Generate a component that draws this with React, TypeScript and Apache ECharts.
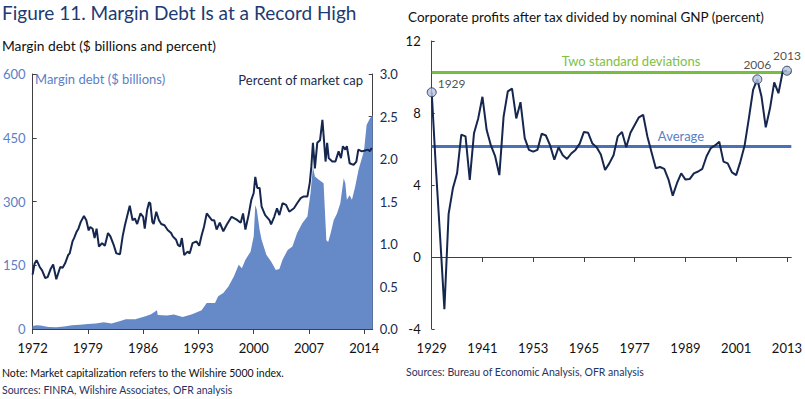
import React, { useEffect, useRef } from "react";
import * as echarts from "echarts";

const FONT = "Lato, 'Open Sans', sans-serif";

// ---- Left panel: margin debt ($ billions) and percent of market cap ----
const debtYears = [
  1972.0, 1972.5, 1973.0, 1974.0, 1975.0, 1976.0, 1977.0, 1978.0, 1979.0, 1980.0,
  1981.0, 1982.0, 1983.0, 1983.8, 1985.0, 1986.3, 1987.0, 1987.75, 1987.85, 1989.0,
  1989.9, 1991.0, 1992.2, 1993.4, 1994.05, 1995.1, 1995.5, 1996.15, 1996.8, 1997.5,
  1998.1, 1998.5, 1998.95, 1999.6, 2000.0, 2000.2, 2000.4, 2000.75, 2001.0, 2001.6,
  2002.2, 2002.8, 2003.25, 2003.65, 2004.3, 2004.9, 2005.5, 2006.15, 2006.8, 2007.2,
  2007.5, 2007.75, 2008.25, 2008.85, 2009.2, 2009.43, 2009.75, 2010.13, 2010.55, 2010.97,
  2011.4, 2011.6, 2011.8, 2012.14, 2012.44, 2012.85, 2013.27, 2013.7, 2013.98, 2014.3,
  2014.73, 2015.07,
];
const debtValues = [
  7, 9, 8, 5, 4, 6, 9, 10, 12, 13,
  16, 13, 18, 23, 23, 30, 35, 44, 33, 32,
  34, 28, 35, 44, 61, 61, 77, 85, 100, 124,
  151, 143, 163, 182, 218, 292, 280, 233, 210, 175,
  159, 139, 141, 163, 186, 194, 226, 249, 265, 320,
  382, 359, 351, 343, 209, 205, 226, 256, 272, 296,
  355, 343, 304, 315, 304, 335, 374, 402, 421, 480,
  496, 503,
];

const pctYears = [
  1972.0, 1972.25, 1972.5, 1972.9, 1973.2, 1973.6, 1973.9, 1974.3, 1974.6, 1975.0,
  1975.5, 1975.8, 1976.1, 1976.5, 1976.7, 1977.05, 1977.25, 1977.55, 1977.8, 1978.1,
  1978.5, 1978.8, 1979.1, 1979.3, 1979.6, 1979.85, 1980.1, 1980.4, 1980.8, 1981.15,
  1981.55, 1981.85, 1982.3, 1982.6, 1983.07, 1983.4, 1983.69, 1983.9, 1984.3, 1984.66,
  1984.95, 1985.24, 1985.66, 1986.0, 1986.2, 1986.5, 1986.75, 1986.9, 1987.16, 1987.33,
  1987.66, 1988.0, 1988.29, 1988.7, 1989.1, 1989.54, 1989.75, 1990.17, 1990.4, 1990.67,
  1990.9, 1991.2, 1991.63, 1991.9, 1992.25, 1992.76, 1993.1, 1993.4, 1993.7, 1994.05,
  1994.7, 1995.0, 1995.3, 1995.7, 1996.15, 1996.6, 1997.2, 1997.8, 1998.35, 1998.65,
  1998.95, 1999.35, 1999.7, 2000.0, 2000.2, 2000.45, 2000.75, 2001.0, 2001.45, 2002.0,
  2002.2, 2002.6, 2002.95, 2003.25, 2003.65, 2004.1, 2004.5, 2005.1, 2005.5, 2005.95,
  2006.35, 2006.8, 2007.1, 2007.3, 2007.5, 2007.75, 2008.05, 2008.4, 2008.7, 2008.9,
  2009.1, 2009.3, 2009.5, 2009.95, 2010.35, 2010.75, 2011.05, 2011.3, 2011.6, 2011.8,
  2012.15, 2012.65, 2013.0, 2013.25, 2013.7, 2014.1, 2014.5, 2014.7, 2014.95,
];
const pctValues = [
  0.64, 0.77, 0.81, 0.73, 0.69, 0.6, 0.61, 0.71, 0.76, 0.585,
  0.73, 0.72, 0.77, 0.87, 0.89, 1.03, 1.07, 1.14, 1.18, 1.26,
  1.33, 1.28, 1.16, 1.2, 1.18, 1.07, 1.18, 0.97, 1.01, 0.98,
  1.13, 1.09, 0.98, 0.89, 0.88, 1.09, 1.22, 1.3, 1.45, 1.28,
  1.3, 1.235, 1.36, 1.32, 1.18, 1.4, 1.49, 1.48, 1.26, 1.235,
  1.38, 1.28, 1.235, 1.22, 1.165, 1.13, 1.09, 1.05, 0.99, 0.97,
  1.07, 0.87, 0.91, 0.89, 1.01, 1.03, 0.98, 1.1, 1.2, 1.36,
  1.28, 1.28, 1.17, 1.25, 1.15, 1.23, 1.32, 1.29, 1.25, 1.36,
  1.17, 1.34, 1.52, 1.6, 1.79, 1.66, 1.66, 1.44, 1.34, 1.28,
  1.23, 1.32, 1.42, 1.34, 1.48, 1.46, 1.38, 1.42, 1.48, 1.54,
  1.56, 1.56, 1.72, 1.91, 2.19, 1.89, 2.19, 2.22, 2.46, 2.22,
  1.97, 2.19, 2.01, 1.97, 1.97, 2.09, 2.01, 2.15, 2.11, 2.15,
  1.95, 1.93, 1.97, 2.11, 2.09, 2.1, 2.11, 2.09, 2.13,
];
const leftXTicks = [1972, 1979, 1986, 1993, 2000, 2007, 2014];

// ---- Right panel: corporate profits after tax / nominal GNP (percent) ----
const profitStartYear = 1929;
const profitValues = [
  9.15, 4.9, 1.1, -2.9, 2.4, 3.8, 4.65, 6.8, 6.7, 4.28,
  6.87, 7.7, 8.9, 7.05, 6.2, 5.6, 4.55, 7.8, 9.2, 9.35,
  7.7, 8.6, 6.6, 5.95, 5.85, 5.95, 6.85, 6.75, 6.2, 5.4,
  6.1, 5.65, 5.45, 5.75, 5.95, 6.3, 6.95, 6.9, 6.3, 6.1,
  5.7, 4.83, 5.2, 5.65, 6.7, 6.95, 6.1, 6.9, 7.33, 7.76,
  7.9, 6.7, 5.8, 4.93, 5.0, 4.9, 4.3, 3.41, 4.1, 4.65,
  4.3, 4.33, 4.65, 4.75, 4.9, 5.6, 6.05, 6.2, 6.4, 5.3,
  5.2, 4.7, 4.55, 5.3, 6.2, 7.7, 9.28, 9.87, 8.9, 7.2,
  8.26, 9.7, 9.1, 10.3, 10.35,
];
const highlightYears = [1929, 2006, 2013];
const rightXTicks = [1929, 1941, 1953, 1965, 1977, 1989, 2001, 2013];
const twoStdDev = 10.29;
const average = 6.15;

const NAVY = "#15264f";
const AREA = "#6689c7";
const BLUE_TXT = "#5b80c6";
const AXIS = "#404040";

export default function App() {
  const ref = useRef<HTMLDivElement>(null);
  useEffect(() => {
    if (!ref.current) return;
    const chart = echarts.init(ref.current, undefined, { renderer: "svg" });
    const debtData = debtYears.map((y, i) => [y, debtValues[i]]);
    const pctData = pctYears.map((y, i) => [y, pctValues[i]]);
    const profitData = profitValues.map((v, i) => [profitStartYear + i, v]);
    const markData = highlightYears.map((yr) => {
      const i = yr - profitStartYear;
      return {
        value: [yr, profitValues[i]],
        label: {
          show: true,
          formatter: String(yr),
          position: yr === 1929 ? "right" : "top",
          distance: yr === 1929 ? 1 : 4,
          offset: yr === 1929 ? [0, -9] : [0, 0],
          color: "#222",
          fontSize: 12,
          fontFamily: FONT,
        },
      };
    });

    const axisLineStyle = { show: true, lineStyle: { color: AXIS, width: 1 } };
    const yearFmt = (v: number) => String(Math.round(v));
    const txt = (
      text: string,
      x: number,
      y: number,
      size: number,
      color: string,
      align: string = "left"
    ) => ({
      type: "text",
      x,
      y,
      style: {
        text,
        fill: color,
        font: `${size}px ${FONT}`,
        textAlign: align,
        textVerticalAlign: "middle",
      },
    });

    chart.setOption({
      animation: false,
      backgroundColor: "#fff",
      textStyle: { fontFamily: FONT },
      grid: [
        { left: 29, right: 432.3, top: 74, bottom: 70 },
        { left: 431.7, right: 12.3, top: 41, bottom: 70 },
      ],
      xAxis: [
        {
          type: "value",
          gridIndex: 0,
          min: 1972,
          max: 2015.07,
          axisLine: axisLineStyle,
          splitLine: { show: false },
          axisTick: { show: true, length: 5, customValues: leftXTicks, lineStyle: { color: AXIS } },
          axisLabel: {
            customValues: leftXTicks,
            formatter: yearFmt,
            margin: 12,
            fontSize: 13,
            color: "#111",
            fontFamily: FONT,
          },
        },
        {
          type: "value",
          gridIndex: 1,
          min: 1929,
          max: 2014.04,
          axisLine: axisLineStyle,
          splitLine: { show: false },
          axisTick: { show: true, length: 5, customValues: rightXTicks, lineStyle: { color: AXIS } },
          axisLabel: {
            customValues: rightXTicks,
            formatter: yearFmt,
            margin: 12,
            fontSize: 13,
            color: "#111",
            fontFamily: FONT,
          },
        },
      ],
      yAxis: [
        {
          type: "value",
          gridIndex: 0,
          min: 0,
          max: 600,
          interval: 150,
          axisLine: axisLineStyle,
          splitLine: { show: false },
          axisTick: { show: true, inside: true, length: 4, lineStyle: { color: AXIS } },
          axisLabel: { margin: 7, fontSize: 13, color: BLUE_TXT, fontFamily: FONT },
        },
        {
          type: "value",
          gridIndex: 0,
          position: "right",
          min: 0,
          max: 3,
          interval: 0.5,
          axisLine: axisLineStyle,
          splitLine: { show: false },
          axisTick: { show: true, inside: true, length: 4, lineStyle: { color: AXIS } },
          axisLabel: {
            margin: 7,
            fontSize: 13,
            color: "#1b2a4e",
            fontFamily: FONT,
            formatter: (v: number) => v.toFixed(1),
          },
        },
        {
          type: "value",
          gridIndex: 1,
          min: -4,
          max: 12,
          interval: 4,
          axisLine: axisLineStyle,
          splitLine: { show: false },
          axisTick: { show: true, inside: true, length: 3, lineStyle: { color: AXIS } },
          axisLabel: { margin: 11, fontSize: 13, color: "#111", fontFamily: FONT },
        },
      ],
      series: [
        {
          type: "line",
          xAxisIndex: 0,
          yAxisIndex: 0,
          data: debtData,
          showSymbol: false,
          lineStyle: { width: 0 },
          areaStyle: { color: AREA, opacity: 1 },
          itemStyle: { color: AREA },
          z: 1,
        },
        {
          type: "line",
          xAxisIndex: 0,
          yAxisIndex: 1,
          data: pctData,
          showSymbol: false,
          lineStyle: { width: 2, color: NAVY },
          itemStyle: { color: NAVY },
          z: 3,
        },
        {
          type: "line",
          xAxisIndex: 1,
          yAxisIndex: 2,
          data: profitData,
          showSymbol: false,
          lineStyle: { width: 2, color: NAVY },
          itemStyle: { color: NAVY },
          z: 3,
          markLine: {
            silent: true,
            symbol: "none",
            label: { show: false },
            z: 2,
            data: [
              { yAxis: twoStdDev, lineStyle: { color: "#77bc43", width: 3, type: "solid" } },
              { yAxis: average, lineStyle: { color: "#4a70b6", width: 3, type: "solid" } },
            ],
          },
        },
        {
          type: "scatter",
          xAxisIndex: 1,
          yAxisIndex: 2,
          data: markData,
          symbol: "circle",
          symbolSize: 9,
          itemStyle: { color: "#b5c3de", borderColor: NAVY, borderWidth: 1 },
          z: 4,
        },
      ],
      graphic: [
        txt("Figure 11. Margin Debt Is at a Record High", 2, 12, 19, "#203a72"),
        txt("Margin debt ($ billions and percent)", 2, 45, 13.8, "#111"),
        txt("Corporate profits after tax divided by nominal GNP (percent)", 408, 17, 13.5, "#111"),
        txt("Margin debt ($ billions)", 35, 79, 13, BLUE_TXT),
        txt("Percent of market cap", 363, 80, 13, "#1b2a4e", "right"),
        txt("Two standard deviations", 631, 61, 13, "#7cc142", "center"),
        txt("Average", 681, 136, 13, BLUE_TXT, "center"),
        txt("Note: Market capitalization refers to the Wilshire 5000 index.", 2, 373, 10.5, "#111"),
        txt("Sources: FINRA, Wilshire Associates, OFR analysis", 2, 390, 10.5, "#1f3464"),
        txt("Sources: Bureau of Economic Analysis, OFR analysis", 406, 372, 10.5, "#1f3464"),
      ],
    });
    return () => chart.dispose();
  }, []);
  return (
    <div
      ref={ref}
      style={{ position: "absolute", left: 0, top: 0, width: 805, height: 399 }}
    />
  );
}
